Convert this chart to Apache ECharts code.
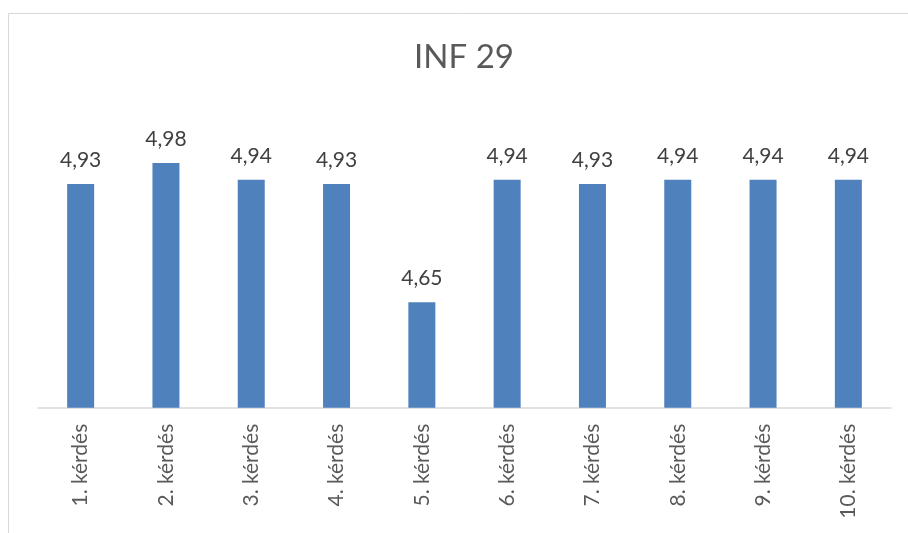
<!DOCTYPE html>
<html>
<head>
<meta charset="utf-8">
<title>INF 29</title>
<script src="https://cdn.jsdelivr.net/npm/echarts@6/dist/echarts.min.js"></script>
<style>
  html, body { margin: 0; padding: 0; background: #ffffff; }
  #chart { width: 908px; height: 533px; }
</style>
</head>
<body>
<div id="chart"></div>
<script>
// Question labels and average scores
const categories = ['1. kérdés', '2. kérdés', '3. kérdés', '4. kérdés', '5. kérdés',
                    '6. kérdés', '7. kérdés', '8. kérdés', '9. kérdés', '10. kérdés'];
const scores = [4.93, 4.98, 4.94, 4.93, 4.65, 4.94, 4.93, 4.94, 4.94, 4.94];
const chartTitle = 'INF 29';

const FONT = 'Lato, "Open Sans", sans-serif';

const chart = echarts.init(document.getElementById('chart'), null, { renderer: 'canvas' });

chart.setOption({
  animation: false,
  backgroundColor: '#ffffff',
  graphic: [{
    // outer chart frame
    type: 'rect',
    shape: { x: 8.5, y: 13.5, width: 920, height: 540 },
    style: { fill: 'none', stroke: '#d9d9d9', lineWidth: 1 },
    silent: true
  }, {
    // chart title, centred over the plot area
    type: 'text',
    x: 464,
    y: 57,
    style: {
      text: chartTitle,
      align: 'center',
      verticalAlign: 'middle',
      fontFamily: FONT,
      fontSize: 33,
      fill: '#595959'
    },
    silent: true
  }],
  grid: { left: 38, right: 17, top: 154.5, bottom: 125.3 },
  xAxis: {
    type: 'category',
    data: categories,
    axisLine: { lineStyle: { color: '#d9d9d9', width: 1.5 } },
    axisTick: { show: false },
    axisLabel: {
      rotate: 90,
      interval: 0,
      margin: 16,
      fontFamily: FONT,
      fontSize: 21,
      color: '#595959'
    }
  },
  yAxis: {
    type: 'value',
    min: 4.4,
    max: 5.0,
    show: false,
    splitLine: { show: false }
  },
  series: [{
    type: 'bar',
    data: scores,
    barWidth: 27,
    itemStyle: { color: '#4f81bd' },
    label: {
      show: true,
      position: 'top',
      distance: 13,
      fontFamily: FONT,
      fontSize: 21,
      color: '#404040',
      formatter: p => p.value.toFixed(2).replace('.', ',')
    }
  }]
});
</script>
</body>
</html>
